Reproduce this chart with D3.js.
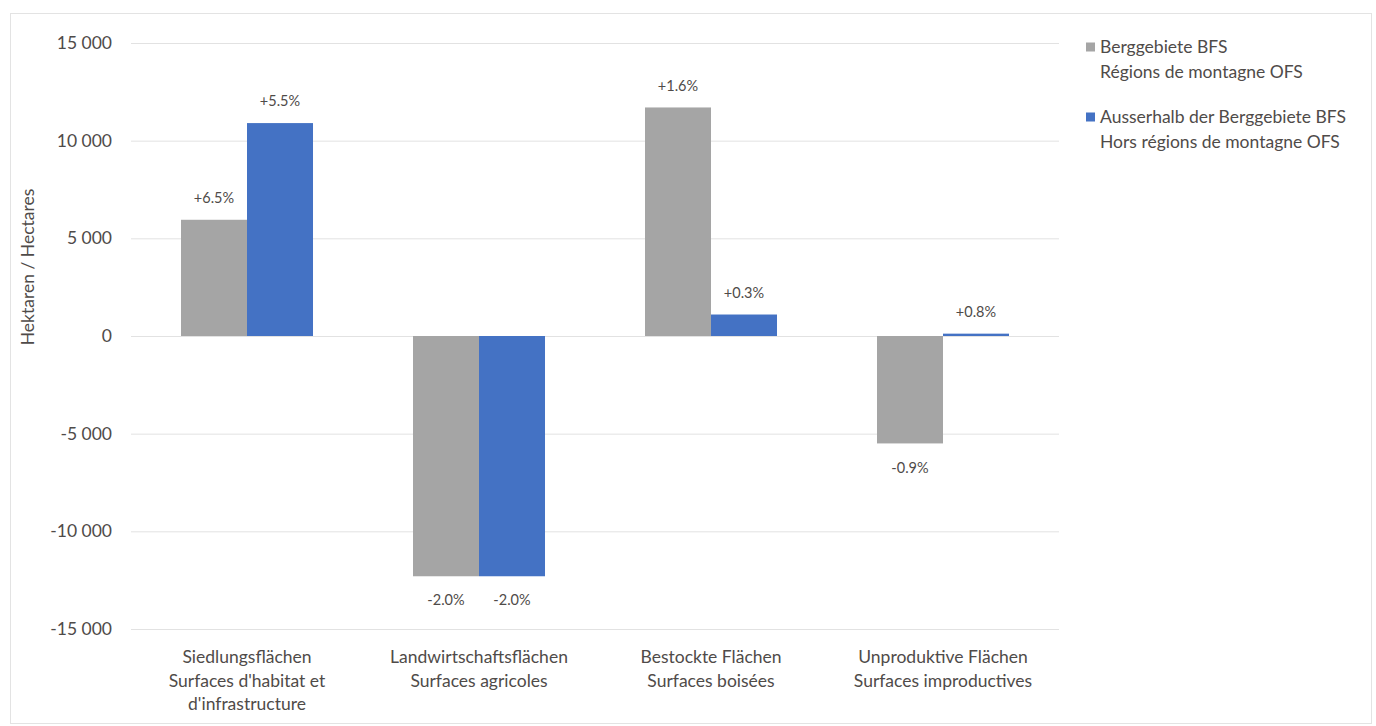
<!DOCTYPE html>
<html><head><meta charset="utf-8">
<script src="https://cdn.jsdelivr.net/npm/d3@7"></script>
<style>body{margin:0;background:#fff}svg{display:block}text{font-family:Lato,"Open Sans",sans-serif;fill:#4f4b49}</style>
</head><body>
<svg id="c" width="1376" height="726"></svg>
<script>
const categories = [
  ["Siedlungsflächen", "Surfaces d'habitat et", "d'infrastructure"],
  ["Landwirtschaftsflächen", "Surfaces agricoles"],
  ["Bestockte Flächen", "Surfaces boisées"],
  ["Unproduktive Flächen", "Surfaces improductives"]
];
const seriesNames = [
  ["Berggebiete BFS", "Régions de montagne OFS"],
  ["Ausserhalb der Berggebiete BFS", "Hors régions de montagne OFS"]
];
const mountain = [5950, -12300, 11700, -5500];
const outside = [10900, -12300, 1100, 120];
const mountainPct = ["+6.5%", "-2.0%", "+1.6%", "-0.9%"];
const outsidePct = ["+5.5%", "-2.0%", "+0.3%", "+0.8%"];
const yTicks = [-15000, -10000, -5000, 0, 5000, 10000, 15000];
const colors = ["#a5a5a5", "#4472c4"];

const svg = d3.select("#c");
svg.append("rect").attr("x", 10.5).attr("y", 13.5).attr("width", 1361).attr("height", 710)
  .attr("fill", "#fff").attr("stroke", "#e3e3e3");

const L = 131, R = 1059, T = 43, B = 629;
const y = d3.scaleLinear().domain([-15000, 15000]).range([B, T]);
const x0 = d3.scaleBand().domain(d3.range(categories.length)).range([L, R]).paddingInner(0.431).paddingOuter(0.2155);
const x1 = d3.scaleBand().domain([0, 1]).range([0, x0.bandwidth()]);

const yAxis = d3.axisLeft(y).tickValues(yTicks).tickSize(-(R - L)).tickFormat(d =>
  Math.abs(d) >= 1000 ? (d < 0 ? "-" : "") + Math.floor(Math.abs(d) / 1000) + " 000" : String(d));
const ga = svg.append("g").attr("transform", `translate(${L},0)`).call(yAxis);
ga.select(".domain").remove();
ga.selectAll("line").attr("stroke", "#e2e2e2");
ga.selectAll("text").attr("x", -19).attr("font-size", 17.5).style("fill", "#4f4b49");

svg.append("text").attr("transform", "translate(34,267) rotate(-90)").attr("text-anchor", "middle")
  .attr("font-size", 17.5).text("Hektaren / Hectares");

const data = categories.map((c, i) => ({ i, vals: [mountain[i], outside[i]], pcts: [mountainPct[i], outsidePct[i]] }));
const g = svg.append("g");
const grp = g.selectAll("g").data(data).join("g").attr("transform", d => `translate(${x0(d.i)},0)`);
grp.selectAll("rect").data(d => d.vals.map((v, s) => ({ v, s }))).join("rect")
  .attr("x", d => x1(d.s)).attr("width", x1.bandwidth())
  .attr("y", d => y(Math.max(0, d.v))).attr("height", d => Math.abs(y(d.v) - y(0)))
  .attr("fill", d => colors[d.s]);
grp.selectAll("text").data(d => d.pcts.map((p, s) => ({ p, s, v: d.vals[s] }))).join("text")
  .attr("x", d => x1(d.s) + x1.bandwidth() / 2)
  .attr("y", d => d.v >= 0 ? y(d.v) - 22 : y(d.v) + 24)
  .attr("dy", "0.35em").attr("text-anchor", "middle").attr("font-size", 14.5).text(d => d.p);

const cl = svg.append("g");
categories.forEach((lines, i) => {
  const t = cl.append("text").attr("text-anchor", "middle").attr("font-size", 17.5)
    .attr("transform", `translate(${x0(i) + x0.bandwidth() / 2},657)`);
  lines.forEach((ln, k) => t.append("tspan").attr("x", 0).attr("y", k * 23.5).attr("dy", "0.35em").text(ln));
});

const lg = svg.append("g");
seriesNames.forEach((lines, s) => {
  const yy = 47 + s * 70;
  lg.append("rect").attr("x", 1086).attr("y", yy - 4.5).attr("width", 9).attr("height", 9).attr("fill", colors[s]);
  lines.forEach((ln, k) => lg.append("text").attr("x", 1100).attr("y", yy + k * 24.5).attr("dy", "0.35em")
    .attr("font-size", 17.5).text(ln));
});
</script>
</body></html>
